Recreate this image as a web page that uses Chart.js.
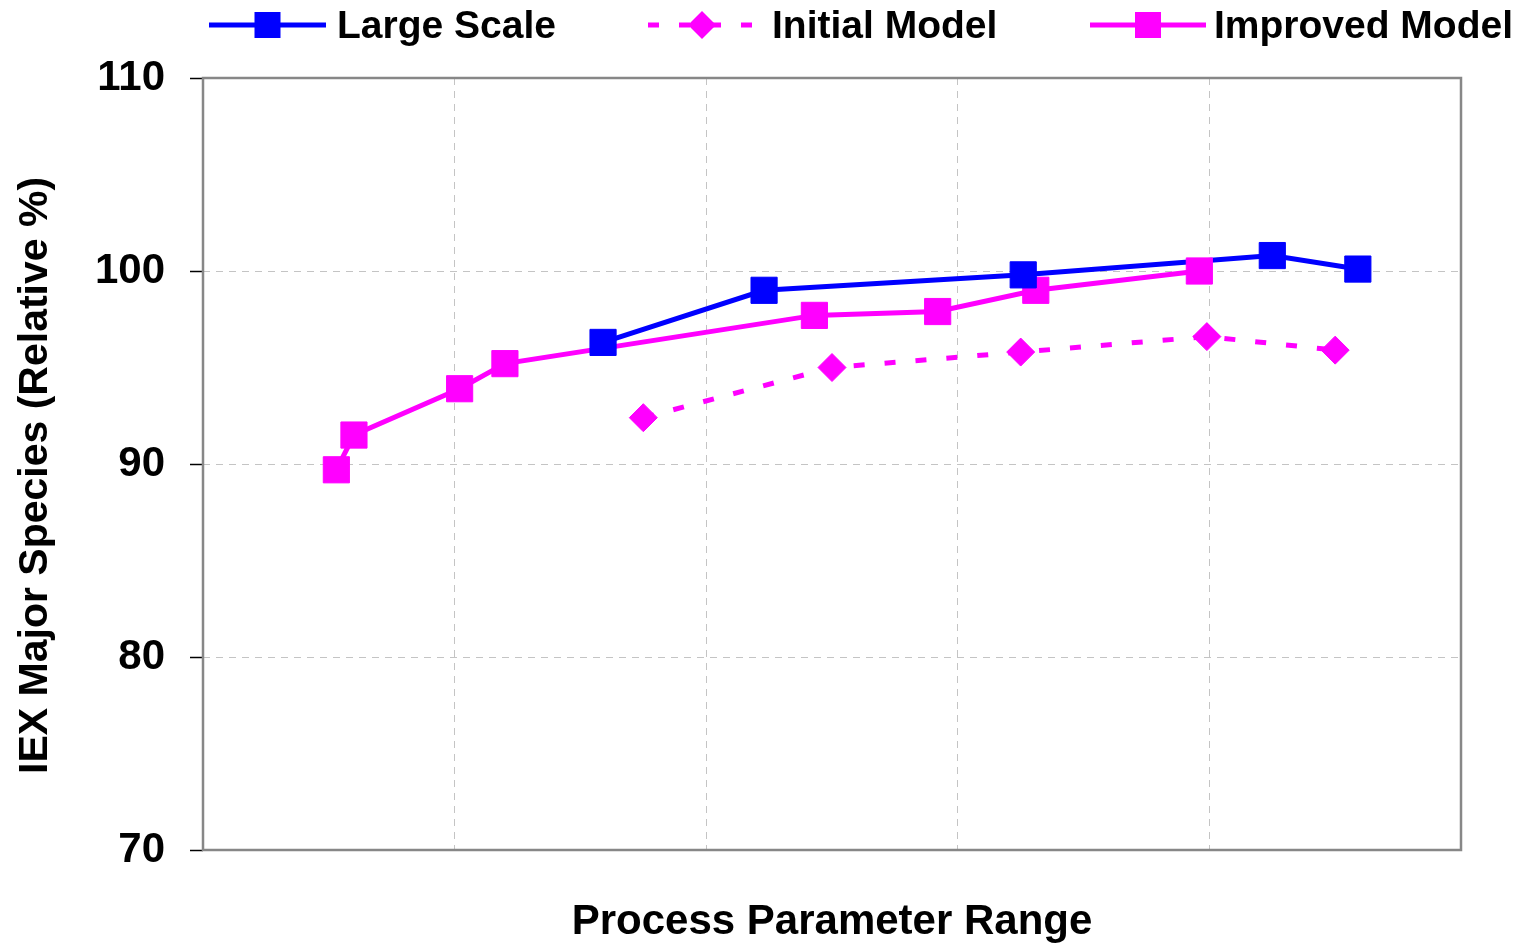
<!DOCTYPE html>
<html>
<head>
<meta charset="utf-8">
<script src="https://cdn.jsdelivr.net/npm/chart.js@4/dist/chart.umd.min.js"></script>
<style>
  html, body { margin: 0; padding: 0; background: #ffffff; }
  #wrap { width: 1532px; height: 947px; position: relative; }
</style>
</head>
<body>
<div id="wrap"><canvas id="c"></canvas></div>
<script>
// ---- data ----
const seriesNames = ["Large Scale", "Initial Model", "Improved Model"];

const largeScaleX = [1.59, 2.23, 3.26, 4.25, 4.59];
const largeScaleY = [96.3, 99.0, 99.8, 100.8, 100.1];

const initialModelX = [1.75, 2.50, 3.25, 3.99, 4.50];
const initialModelY = [92.4, 95.0, 95.8, 96.6, 95.9];

const improvedModelX = [0.53, 0.60, 1.02, 1.20, 2.43, 2.92, 3.31, 3.96];
const improvedModelY = [89.7, 91.5, 93.9, 95.2, 97.7, 97.9, 99.0, 100.0];

const yTicks = [70, 80, 90, 100, 110];
const xGridSteps = [0, 1, 2, 3, 4, 5];

const yTitle = "IEX Major Species (Relative %)";
const xTitle = "Process Parameter Range";

// ---- helpers ----
const pts = (xs, ys) => xs.map((x, i) => ({ x: x, y: ys[i] }));
const BLUE = "#0000FF";
const MAGENTA = "#FF00FF";
const FONT = "'Liberation Sans', Arial, Helvetica, sans-serif";

Chart.defaults.font.family = FONT;
Chart.defaults.color = "#000";

const lineDs = (label, data, color, dash) => ({
  label: label, data: data, showLine: true, borderColor: color, backgroundColor: color,
  borderWidth: 5, borderDash: dash, pointRadius: 0, pointHoverRadius: 0, tension: 0
});
const markDs = (label, data, color, style, r) => ({
  label: label, data: data, showLine: false, borderColor: color, backgroundColor: color,
  borderWidth: 1, pointStyle: style, pointRadius: r, pointHoverRadius: r
});

const framePlugin = {
  id: "frame",
  beforeDatasetsDraw(chart) {
    const { ctx, chartArea: a } = chart;
    ctx.save();
    ctx.strokeStyle = "#878787";
    ctx.lineWidth = 2.5;
    ctx.strokeRect(a.left, a.top, a.right - a.left, a.bottom - a.top);
    ctx.restore();
  }
};

const legendPlugin = {
  id: "customLegend",
  afterDraw(chart) {
    const ctx = chart.ctx;
    const items = [
      { name: seriesNames[0], color: BLUE, dash: [], marker: "square", x0: 209, x1: 326, tx: 337 },
      { name: seriesNames[1], color: MAGENTA, dash: [11, 20], marker: "diamond", x0: 648, x1: 756, tx: 772 },
      { name: seriesNames[2], color: MAGENTA, dash: [], marker: "square", x0: 1090, x1: 1206, tx: 1214 }
    ];
    const y = 25;
    ctx.save();
    items.forEach(it => {
      ctx.strokeStyle = it.color;
      ctx.lineWidth = 5;
      ctx.lineCap = "butt";
      ctx.setLineDash(it.dash);
      ctx.beginPath();
      ctx.moveTo(it.x0, y);
      ctx.lineTo(it.x1, y);
      ctx.stroke();
      ctx.setLineDash([]);
      const cx = (it.x0 + it.x1) / 2;
      ctx.fillStyle = it.color;
      if (it.marker === "square") {
        ctx.fillRect(cx - 13, y - 13, 26, 26);
      } else {
        ctx.beginPath();
        ctx.moveTo(cx, y - 14);
        ctx.lineTo(cx + 14, y);
        ctx.lineTo(cx, y + 14);
        ctx.lineTo(cx - 14, y);
        ctx.closePath();
        ctx.fill();
      }
      ctx.fillStyle = "#000";
      ctx.font = "bold 39px " + FONT;
      ctx.textBaseline = "alphabetic";
      ctx.textAlign = "left";
      ctx.fillText(it.name, it.tx, 38);
    });
    ctx.restore();
  }
};

new Chart(document.getElementById("c"), {
  type: "scatter",
  data: {
    datasets: [
      // markers (drawn last -> on top)
      markDs(seriesNames[0], pts(largeScaleX, largeScaleY), BLUE, "rect", 18.5),
      markDs(seriesNames[2], pts(improvedModelX, improvedModelY), MAGENTA, "rect", 18.5),
      markDs(seriesNames[1], pts(initialModelX, initialModelY), MAGENTA, "rectRot", 14),
      // lines (drawn first)
      lineDs(seriesNames[0], pts(largeScaleX, largeScaleY), BLUE, []),
      lineDs(seriesNames[2], pts(improvedModelX, improvedModelY), MAGENTA, []),
      lineDs(seriesNames[1], pts(initialModelX, initialModelY), MAGENTA, [11, 20])
    ]
  },
  options: {
    responsive: true,
    maintainAspectRatio: false,
    animation: false,
    layout: { padding: { top: 78, right: 71, left: 0, bottom: 0 } },
    plugins: {
      legend: { display: false },
      tooltip: { enabled: false },
      title: { display: false }
    },
    scales: {
      x: {
        type: "linear",
        min: xGridSteps[0],
        max: xGridSteps[xGridSteps.length - 1],
        afterBuildTicks: s => { s.ticks = xGridSteps.map(v => ({ value: v })); },
        ticks: { display: false },
        grid: { color: "#c4c4c4", lineWidth: 1, drawTicks: false },
        border: { display: false, dash: [7, 6] },
        title: {
          display: true, text: xTitle, color: "#000",
          font: { size: 42, weight: "bold", lineHeight: 1.1 },
          padding: { top: 0, bottom: 1 }
        },
        afterFit: s => { s.height = 97; }
      },
      y: {
        type: "linear",
        min: yTicks[0],
        max: yTicks[yTicks.length - 1],
        afterBuildTicks: s => { s.ticks = yTicks.map(v => ({ value: v })); },
        ticks: { color: "#000", font: { size: 42, weight: "bold" }, padding: 25 },
        grid: { color: "#c4c4c4", lineWidth: 1, drawTicks: true, tickLength: 13, tickColor: "#000", tickWidth: 1.5 },
        border: { display: false, dash: [7, 6] },
        title: {
          display: true, text: yTitle + "  ", color: "#000",
          font: { size: 41, weight: "bold", lineHeight: 1.2 },
          padding: { top: 11, bottom: 0 }
        },
        afterFit: s => { s.width = 203; }
      }
    }
  },
  plugins: [framePlugin, legendPlugin]
});
</script>
</body>
</html>
